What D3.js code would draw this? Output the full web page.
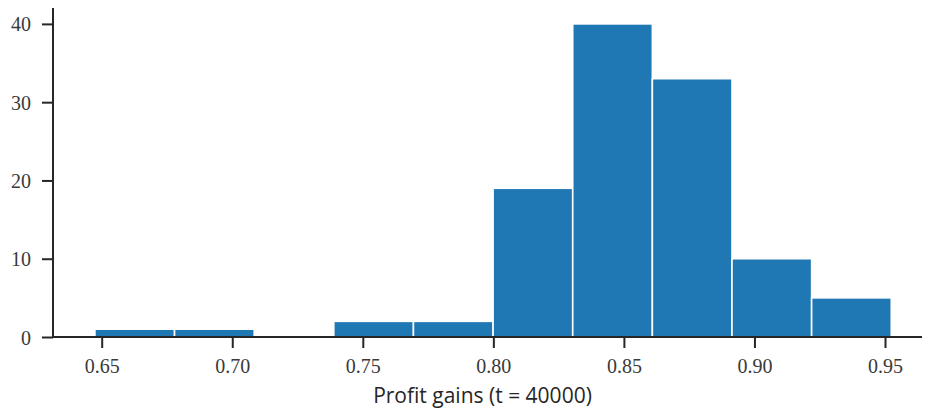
<!DOCTYPE html>
<html>
<head>
<meta charset="utf-8">
<script src="https://cdn.jsdelivr.net/npm/d3@7"></script>
<style>
  html, body { margin: 0; padding: 0; background: #fff; }
  svg { display: block; }
</style>
</head>
<body>
<svg id="chart" width="925" height="412"></svg>
<script>
// Histogram of profit gains: bin edges and counts per bin
const binStart = 0.6474;
const binWidth = 0.0305;
const counts = [1, 1, 0, 2, 2, 19, 40, 33, 10, 5];
const xTicks = [0.65, 0.70, 0.75, 0.80, 0.85, 0.90, 0.95];
const yTicks = [0, 10, 20, 30, 40];
const xLabel = "Profit gains (t = 40000)";

const bins = counts.map((c, i) => ({
  x0: binStart + i * binWidth,
  x1: binStart + (i + 1) * binWidth,
  count: c
}));

const svg = d3.select("#chart");
const plotLeft = 53, plotRight = 922, plotTop = 8, plotBottom = 337;

const x = d3.scaleLinear().domain([0.65, 0.95]).range([101.7, 885]);
const y = d3.scaleLinear().domain([0, 40]).range([plotBottom, 23.9]);

// Bars with thin white outlines
svg.append("g")
  .selectAll("rect")
  .data(bins.filter(d => d.count > 0))
  .join("rect")
  .attr("x", d => x(d.x0))
  .attr("y", d => y(d.count))
  .attr("width", d => x(d.x1) - x(d.x0))
  .attr("height", d => y(0) - y(d.count))
  .attr("fill", "#1f77b4")
  .attr("stroke", "#ffffff")
  .attr("stroke-width", 1.6);

const axisColor = "#262626";
const tickFont = "'Liberation Serif', 'DejaVu Serif', serif";

// X axis
const gx = svg.append("g").attr("transform", `translate(0,${plotBottom})`);
gx.call(d3.axisBottom(x).tickValues(xTicks).tickSize(11).tickSizeOuter(0).tickFormat(d3.format(".2f")));
gx.select(".domain").remove();
gx.append("line").attr("x1", plotLeft).attr("x2", plotRight).attr("y1", 0).attr("y2", 0)
  .attr("stroke", axisColor).attr("stroke-width", 2);
gx.selectAll(".tick line").attr("stroke", axisColor).attr("stroke-width", 2);
gx.selectAll(".tick text")
  .attr("y", 36).attr("dy", 0)
  .attr("fill", "#3a3a3a")
  .style("font-family", tickFont)
  .style("font-size", "20px");

// Y axis
const gy = svg.append("g").attr("transform", `translate(${plotLeft},0)`);
gy.call(d3.axisLeft(y).tickValues(yTicks).tickSize(11).tickSizeOuter(0));
gy.select(".domain").remove();
gy.append("line").attr("x1", 0).attr("x2", 0).attr("y1", plotTop).attr("y2", plotBottom)
  .attr("stroke", axisColor).attr("stroke-width", 2);
gy.selectAll(".tick line").attr("stroke", axisColor).attr("stroke-width", 2);
gy.selectAll(".tick text")
  .attr("x", -22)
  .attr("dy", "0.35em")
  .attr("fill", "#3a3a3a")
  .style("font-family", tickFont)
  .style("font-size", "20px");

// Axis title
svg.append("text")
  .attr("x", (370 + 595) / 2)
  .attr("y", 403)
  .attr("text-anchor", "middle")
  .attr("fill", "#262626")
  .style("font-family", "'Open Sans', 'DejaVu Sans', sans-serif")
  .style("font-size", "21px")
  .text(xLabel);
</script>
</body>
</html>
